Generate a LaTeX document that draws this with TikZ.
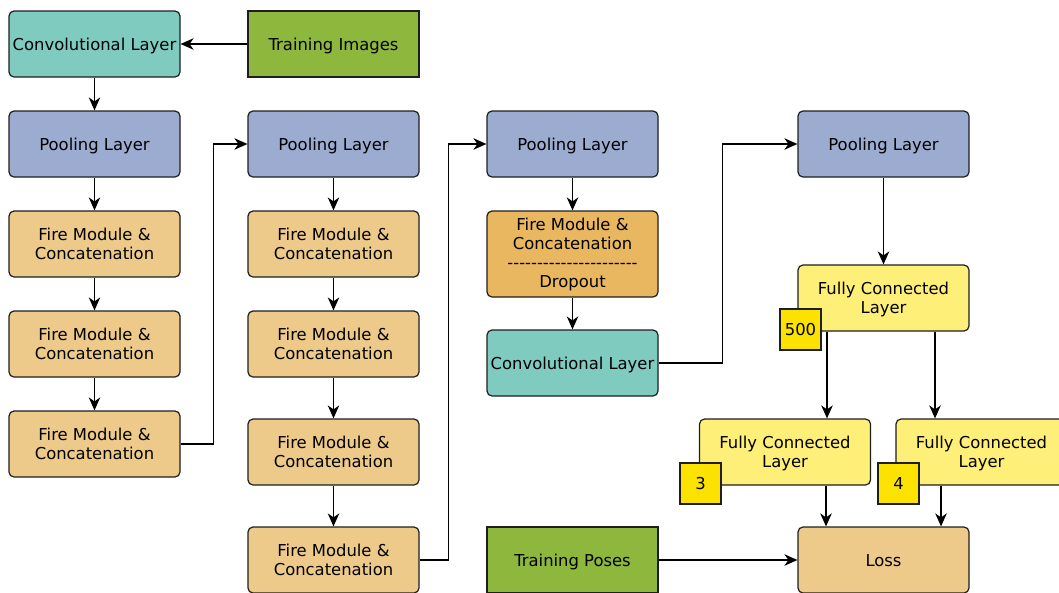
\documentclass[tikz,border=0pt]{standalone}
\usepackage{fontspec}
\setmainfont{DejaVu Sans}
\usetikzlibrary{arrows.meta,calc}

\definecolor{convc}{RGB}{128,203,192}
\definecolor{poolc}{RGB}{156,172,209}
\definecolor{firec}{RGB}{237,202,137}
\definecolor{dropc}{RGB}{233,183,95}
\definecolor{fcc}{RGB}{253,239,120}
\definecolor{tagc}{RGB}{251,226,0}
\definecolor{inputc}{RGB}{141,183,61}
\definecolor{edgec}{RGB}{30,30,30}

% a row of plain hyphens (boxed so they are not joined into dashes)
\newcommand\hyphenrow{\foreach \k in {1,...,22}{\hbox{-}}}

\tikzset{
  layer/.style={draw=edgec, line width=1.2pt, rounded corners=5pt,
    minimum width=171pt, minimum height=66pt, inner sep=0pt,
    align=center, font=\fontsize{16.4}{19}\selectfont},
  oneline/.style={text height=12pt, text depth=0pt},
  inputbox/.style={layer, oneline, rounded corners=0pt, fill=inputc},
  tagbox/.style={draw=edgec, line width=1.2pt, fill=tagc,
    minimum width=41pt, minimum height=41pt, inner sep=0pt,
    text height=12pt, text depth=0pt,
    font=\fontsize{16.4}{19}\selectfont},
  arr/.style={draw=black, line width=1.4pt,
    -{Stealth[length=13pt,width=11.5pt,inset=4pt]}}
}

\begin{document}
\begin{tikzpicture}[x=1pt,y=-1pt]
\useasboundingbox (0,0) rectangle (1059,592);
\clip (0,0) rectangle (1059,592);

% first column
\node[layer, oneline, fill=convc] (conv1) at (94.5,44) {Convolutional Layer};
\node[inputbox] (img) at (333.5,44) {Training Images};
\node[layer, oneline, fill=poolc] (pool1) at (94.5,144) {Pooling Layer};
\node[layer, fill=firec] (fire1a) at (94.5,244) {Fire Module \&\\Concatenation};
\node[layer, fill=firec] (fire1b) at (94.5,344) {Fire Module \&\\Concatenation};
\node[layer, fill=firec] (fire1c) at (94.5,444) {Fire Module \&\\Concatenation};

% second column
\node[layer, oneline, fill=poolc] (pool2) at (333.5,144) {Pooling Layer};
\node[layer, fill=firec] (fire2a) at (333.5,244) {Fire Module \&\\Concatenation};
\node[layer, fill=firec] (fire2b) at (333.5,344) {Fire Module \&\\Concatenation};
\node[layer, fill=firec] (fire2c) at (333.5,452) {Fire Module \&\\Concatenation};
\node[layer, fill=firec] (fire2d) at (333.5,560) {Fire Module \&\\Concatenation};

% third column
\node[layer, oneline, fill=poolc] (pool3) at (572.5,144) {Pooling Layer};
\node[layer, fill=dropc, minimum height=86pt] (drop) at (572.5,254)
  {Fire Module \&\\Concatenation\\\hyphenrow\\Dropout};
\node[layer, oneline, fill=convc] (conv3) at (572.5,363) {Convolutional Layer};
\node[inputbox] (poses) at (572.5,560) {Training Poses};

% fourth column
\node[layer, oneline, fill=poolc] (pool4) at (883.5,144) {Pooling Layer};
\node[layer, fill=fcc] (fc500) at (883.5,298) {Fully Connected\\\smash{Layer}};
\node[tagbox] (t500) at (800.5,329.5) {500};
\node[layer, fill=fcc] (fc3) at (785,452) {Fully Connected\\\smash{Layer}};
\node[tagbox] (t3) at (700.5,483.5) {3};
\node[layer, fill=fcc] (fc4) at (981.5,452) {Fully Connected\\\smash{Layer}};
\node[tagbox] (t4) at (898.5,483.5) {4};
\node[layer, oneline, fill=firec] (loss) at (883.5,560) {Loss};

% connectors
\draw[arr] (img.west) -- (conv1.east);
\draw[arr] (conv1.south) -- (pool1.north);
\draw[arr] (pool1.south) -- (fire1a.north);
\draw[arr] (fire1a.south) -- (fire1b.north);
\draw[arr] (fire1b.south) -- (fire1c.north);
\draw[arr] (fire1c.east) -- ++(33,0) |- (pool2.west);

\draw[arr] (pool2.south) -- (fire2a.north);
\draw[arr] (fire2a.south) -- (fire2b.north);
\draw[arr] (fire2b.south) -- (fire2c.north);
\draw[arr] (fire2c.south) -- (fire2d.north);
\draw[arr] (fire2d.east) -- ++(29,0) |- (pool3.west);

\draw[arr] (pool3.south) -- (drop.north);
\draw[arr] (drop.south) -- (conv3.north);
\draw[arr] (conv3.east) -- ++(64,0) |- (pool4.west);

\draw[arr] (pool4.south) -- (fc500.north);
\draw[arr] ([xshift=-56.5pt]fc500.south) -- ([xshift=-56.5pt]fc500.south |- fc3.north);
\draw[arr] ([xshift=51.5pt]fc500.south) -- ([xshift=51.5pt]fc500.south |- fc4.north);
\draw[arr] ([xshift=41pt]fc3.south) -- ([xshift=41pt]fc3.south |- loss.north);
\draw[arr] ([xshift=-40.5pt]fc4.south) -- ([xshift=-40.5pt]fc4.south |- loss.north);
\draw[arr] (poses.east) -- (loss.west);
\end{tikzpicture}
\end{document}
